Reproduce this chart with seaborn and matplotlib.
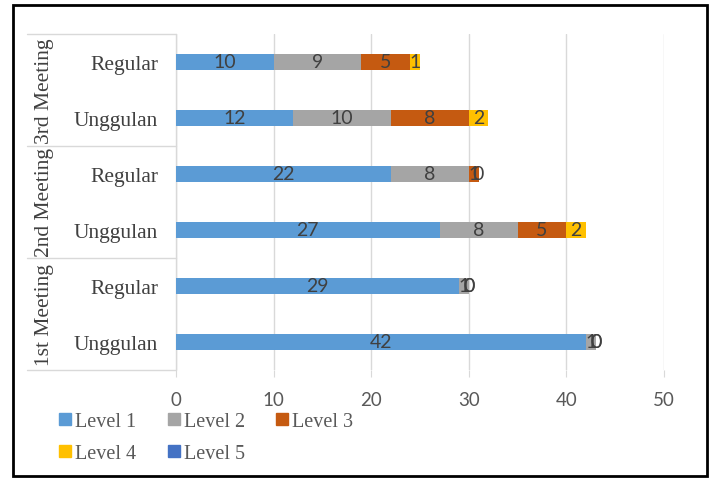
import numpy as np
import pandas as pd
import seaborn as sns
import matplotlib.pyplot as plt
from matplotlib.patches import Rectangle

# chart values, top row first
meetings = ["3rd Meeting", "2nd Meeting", "1st Meeting"]
rows = ["3rd Meeting|Regular", "3rd Meeting|Unggulan",
        "2nd Meeting|Regular", "2nd Meeting|Unggulan",
        "1st Meeting|Regular", "1st Meeting|Unggulan"]
level1 = [10, 12, 22, 27, 29, 42]
level2 = [9, 10, 8, 8, 1, 1]
level3 = [5, 8, 1, 5, 0, 0]
level4 = [1, 2, 0, 2, 0, 0]
level5 = [None, None, None, None, None, None]
levels = ["Level 1", "Level 2", "Level 3", "Level 4", "Level 5"]
colors = ["#5B9BD5", "#A5A5A5", "#C55A11", "#FFC000", "#4472C4"]
xticks = [0, 10, 20, 30, 40, 50]

df = pd.DataFrame({"row": rows, "Level 1": level1, "Level 2": level2,
                   "Level 3": level3, "Level 4": level4, "Level 5": level5})
vals = df[levels].astype(float)
cum = vals.fillna(0).cumsum(axis=1)
for lv in levels:
    df["cum " + lv] = cum[lv]

sns.set_style("white")
serif = ["Liberation Serif", "DejaVu Serif"]
sans = ["Lato", "DejaVu Sans"]

fig = plt.figure(figsize=(7.1, 4.81), dpi=100)
W, H = 710, 481
x0, x50, ytop, ybot = 176, 664, 35, 371
ax = fig.add_axes([x0 / W, 1 - ybot / H, (x50 - x0) / W, (ybot - ytop) / H])

# stacked bars: draw longest cumulative first
for lv, c in reversed(list(zip(levels, colors))):
    sns.barplot(data=df, x="cum " + lv, y="row", order=rows, orient="h",
                color=c, saturation=1, width=0.3, linewidth=0, ax=ax, zorder=3)

# data labels
for i in range(len(rows)):
    left = 0.0
    for lv in levels:
        v = vals.loc[i, lv]
        if np.isnan(v):
            continue
        ax.text(left + v / 2, i, f"{int(v)}", ha="center", va="center",
                fontsize=14, color="#404040", family=sans, zorder=5)
        left += v

ax.set_xlim(0, 50)
ax.set_ylim(len(rows) - 0.5, -0.5)
ax.set_xticks(xticks)
ax.set_xticklabels([str(t) for t in xticks], family=sans, fontsize=13.5, color="#595959")
ax.set_yticks(range(len(rows)))
ax.set_yticklabels([r.split("|")[1] for r in rows], family=serif, fontsize=15.5, color="#404040")
ax.tick_params(axis="y", length=0, pad=13)
ax.tick_params(axis="x", length=5, color="#D9D9D9", pad=10, bottom=True)
ax.set_xlabel("")
ax.set_ylabel("")
ax.grid(axis="x", color="#D9D9D9", lw=1, zorder=0)
for s in ax.spines.values():
    s.set_visible(False)

# multi-level category box
xl = (27 - x0) / (x50 - x0)
for yy in [0, 1 / 3, 2 / 3, 1]:
    ax.plot([xl, 0], [yy, yy], transform=ax.transAxes, color="#D9D9D9",
            lw=1, clip_on=False)
ax.plot([0, 0], [0, 1], transform=ax.transAxes, color="#D9D9D9", lw=1, clip_on=False)
xm = (44 - x0) / (x50 - x0)
for k, m in enumerate(meetings):
    ax.text(xm, 1 - (k + 0.5) / 3, m, transform=ax.transAxes, rotation=90,
            ha="center", va="center", family=serif, fontsize=15.5, color="#404040")

# legend below, rows: L1 L2 L3 / L4 L5
handles = [Rectangle((0, 0), 1, 1, color=c) for c in colors]
order = [0, 3, 1, 4, 2]
fig.legend([handles[i] for i in order], [levels[i] for i in order], ncol=3,
           loc="upper left", bbox_to_anchor=(51 / W, 1 - 405 / H), frameon=False,
           prop={"family": serif, "size": 14.5}, labelcolor="#595959",
           handlelength=0.6, handleheight=0.6, handletextpad=0.2,
           columnspacing=1.55, labelspacing=0.65, borderaxespad=0)

# outer frame
fig.add_artist(Rectangle((13 / W, 1 - 477 / H), 694 / W, 471 / H, transform=fig.transFigure,
                         fill=False, edgecolor="black", lw=2))

fig.savefig("out.png", dpi=100)
